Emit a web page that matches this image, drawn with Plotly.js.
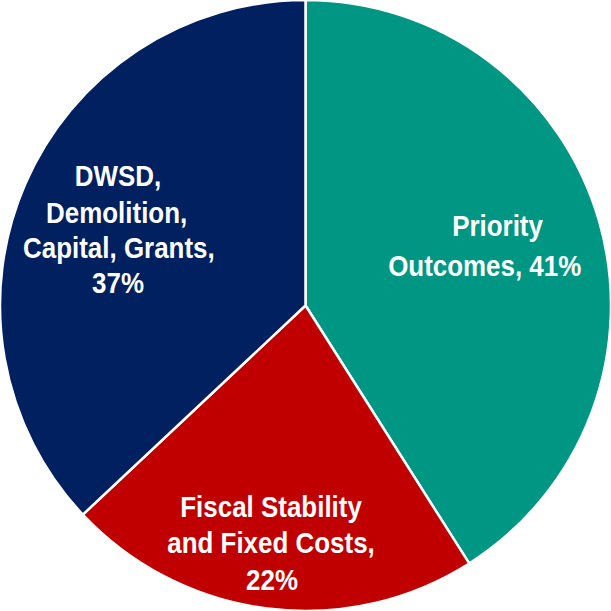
<!DOCTYPE html>
<html>
<head>
<meta charset="utf-8">
<script src="https://cdn.plot.ly/plotly-3.0.1.min.js"></script>
<style>html,body{margin:0;padding:0;background:#fff;}#chart{width:611px;height:611px;}</style>
</head>
<body>
<div id="chart"></div>
<script>
const categories = ["Priority Outcomes", "Fiscal Stability and Fixed Costs", "DWSD, Demolition, Capital, Grants"];
const values = [41, 22, 37];
const labelText = ["Priority<br>Outcomes, 41%", "Fiscal Stability<br>and Fixed Costs,<br>22%", "DWSD,<br>Demolition,<br>Capital, Grants,<br>37%"];
const colors = ["#009684", "#C00000", "#002060"];

// per-line label placement in pixels (styling only): [x center, cap-middle y]
const linePos = [
  [[497, 226], [484, 265]],
  [[271, 506], [271, 542.5], [272, 579]],
  [[118, 176], [116, 212.5], [119, 247], [118, 282.5]]
];
const fontFamily = "'Liberation Sans', Arial, sans-serif";
const fontSize = 30;
const squeeze = 0.865;

const trace = {
  type: "pie",
  labels: categories,
  values: values,
  textinfo: "none",
  hoverinfo: "label+percent",
  sort: false,
  direction: "clockwise",
  rotation: 0,
  marker: {colors: colors, line: {color: "#ffffff", width: 2.5}},
  domain: {x: [0, 1], y: [0, 1]}
};
const annotations = [];
labelText.forEach((t, i) => {
  t.split("<br>").forEach((line, j) => {
    const p = linePos[i][j];
    annotations.push({
      text: line,
      xref: "paper", yref: "paper",
      x: p[0] / 611, y: 1 - p[1] / 611,
      xanchor: "center", yanchor: "middle",
      showarrow: false,
      font: {family: fontFamily, size: fontSize, color: "#ffffff", weight: "bold"}
    });
  });
});
const layout = {
  width: 611, height: 611,
  margin: {l: 0, r: 0, t: 0, b: 0},
  showlegend: false,
  paper_bgcolor: "#ffffff",
  annotations: annotations
};
Plotly.newPlot("chart", [trace], layout, {displayModeBar: false, staticPlot: true}).then(gd => {
  gd.querySelectorAll("text.annotation-text").forEach(el => {
    const b = el.getBBox();
    const cx = b.x + b.width / 2;
    const existing = el.getAttribute("transform") || "";
    el.setAttribute("transform", existing + " translate(" + cx + ",0) scale(" + squeeze + ",1) translate(" + (-cx) + ",0)");
  });
});
</script>
</body>
</html>
